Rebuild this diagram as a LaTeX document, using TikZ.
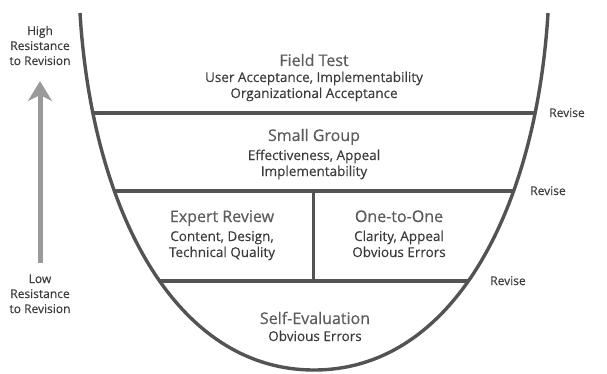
\documentclass[tikz,border=0pt]{standalone}
\usepackage{fontspec}
\setmainfont{Open Sans}
\newfontfamily\stagefont{Open Sans}[FakeBold=0.5]
\newfontfamily\detailfont{Open Sans}[FakeBold=0.25]
\usetikzlibrary{arrows.meta,positioning}
\definecolor{bowlgray}{HTML}{535353}
\definecolor{titlegray}{HTML}{5C5C5C}
\definecolor{detailgray}{HTML}{3C3C3C}
\definecolor{arrowgray}{HTML}{9A9A9A}

\begin{document}
\begin{tikzpicture}[
    x=1pt, y=-1pt,
    >=Stealth,
    stage/.style={
        anchor=base,
        inner sep=0pt,
        text=titlegray,
        font=\stagefont\fontsize{16}{18}\selectfont
    },
    detail/.style={
        inner sep=0pt,
        align=center,
        text=detailgray,
        font=\detailfont\fontsize{13.5}{16}\selectfont
    },
    revise/.style={anchor=base, inner sep=0pt, text=detailgray, font=\detailfont\fontsize{12}{14}\selectfont},
    resist/.style={anchor=base, inner sep=0pt, align=center, text=detailgray, font=\detailfont\fontsize{12}{15}\selectfont},
    wall/.style={line width=3.4pt, draw=bowlgray},
    level/.style={line width=3.2pt, draw=bowlgray},
    rise/.style={line width=5pt, draw=arrowgray, -{Stealth[length=20pt, width=24pt, inset=6pt]}}
]
\useasboundingbox (0,0) rectangle (607,374);

% THE BOWL
\begin{scope}
\clip (80,13) .. controls (92,210) and (175,370) .. (314,370)
      .. controls (453,370) and (536,210) .. (548,13) -- (548,-20) -- (80,-20) -- cycle;
\draw[level] (60,113) -- (580,113);
\draw[level] (60,191) -- (580,191);
\draw[level] (60,281) -- (580,281);
\end{scope}
\draw[level, line width=3pt] (313,191) -- (313,281);
\draw[wall] (80,13) .. controls (92,210) and (175,370) .. (314,370)
      .. controls (453,370) and (536,210) .. (548,13);

% ROW 1
\node[stage] (field) at (314,66) {Field Test};
\node[detail, below=32pt of field.base, anchor=base] (fielddet) {User Acceptance, Implementability\\Organizational Acceptance};

% ROW 2
\node[stage] (small) at (314,141) {Small Group};
\node[detail, below=35pt of small.base, anchor=base] (smalldet) {Effectiveness, Appeal\\Implementability};

% ROW 3
\node[stage] (expert) at (222,222) {Expert Review};
\node[detail, below=35pt of expert.base, anchor=base] (expertdet) {Content, Design,\\Technical Quality};
\node[stage] (onetoone) at (399,222) {One-to-One};
\node[detail, below=35pt of onetoone.base, anchor=base] (onetoonedet) {Clarity, Appeal\\Obvious Errors};

% ROW 4
\node[stage] (self) at (315,324) {Self-Evaluation};
\node[detail, below=17pt of self.base, anchor=base] (selfdet) {Obvious Errors};

% --- REVISE LABELS ---
\node[revise] (rev1) at (567,117) {Revise};
\node[revise] (rev2) at (548,195) {Revise};
\node[revise] (rev3) at (508,285) {Revise};

% --- RESISTANCE SCALE ---
\node[resist] (high) at (40,65) {High\\Resistance\\to Revision};
\node[resist] (low) at (40,313) {Low\\Resistance\\to Revision};
\coordinate (rbottom) at (40,263);
\coordinate (rtop) at (40,81);
\draw[rise] (rbottom) -- (rtop);

\end{tikzpicture}
\end{document}
